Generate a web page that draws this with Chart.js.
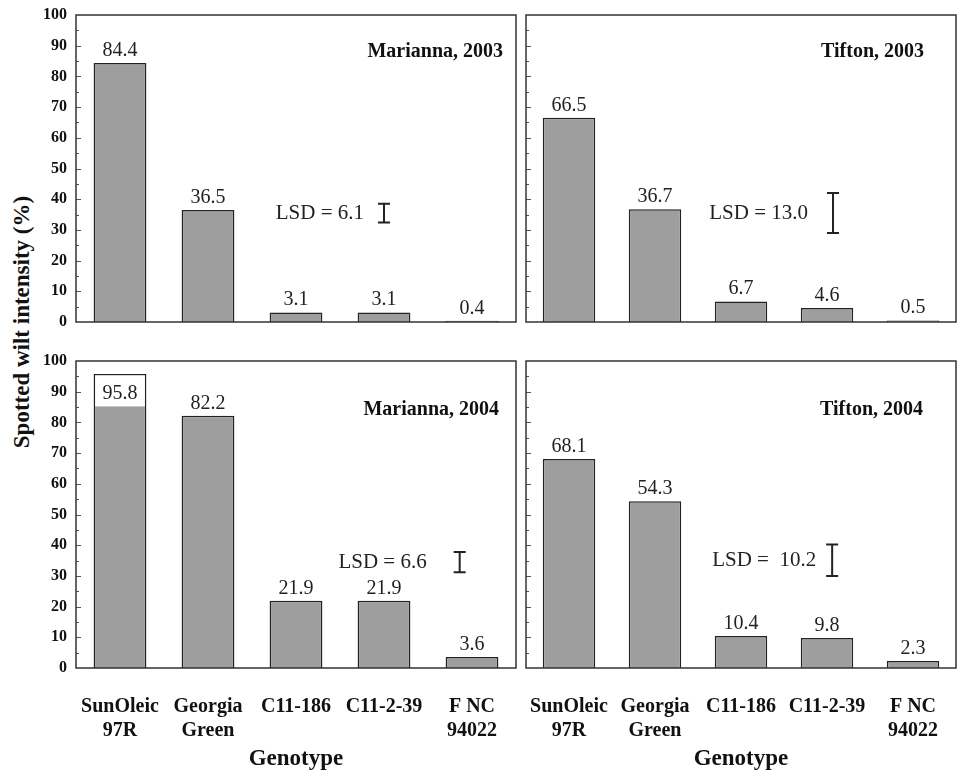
<!DOCTYPE html>
<html>
<head>
<meta charset="utf-8">
<script src="https://cdn.jsdelivr.net/npm/chart.js@4.4.0/dist/chart.umd.min.js"></script>
<style>
body{margin:0;background:#fff;width:957px;height:774px;position:relative;overflow:hidden;}
.panel{position:absolute;}
#ytitle{position:absolute;left:22px;top:322px;transform:translate(-50%,-50%) rotate(-90deg);font:bold 23px "Liberation Serif";white-space:nowrap;color:#111;}
</style>
</head>
<body>
<div id="ytitle">Spotted wilt intensity (%)</div>
<canvas id="c0" class="panel" width="520" height="330" style="left:0;top:0"></canvas>
<canvas id="c1" class="panel" width="437" height="330" style="left:520px;top:0"></canvas>
<canvas id="c2" class="panel" width="520" height="434" style="left:0;top:340px"></canvas>
<canvas id="c3" class="panel" width="437" height="434" style="left:520px;top:340px"></canvas>
<script>
// ----------------------------------------------------------------------
//  data
// ----------------------------------------------------------------------
var genotypes = [['SunOleic', '97R'], ['Georgia', 'Green'], 'C11-186', 'C11-2-39', ['F NC', '94022']];
var marianna2003 = [84.4, 36.5, 3.1, 3.1, 0.4];
var tifton2003 = [66.5, 36.7, 6.7, 4.6, 0.5];
var marianna2004 = [95.8, 82.2, 21.9, 21.9, 3.6];
var tifton2004 = [68.1, 54.3, 10.4, 9.8, 2.3];
var panelTitles = ['Marianna, 2003', 'Tifton, 2003', 'Marianna, 2004', 'Tifton, 2004'];
var lsdValues = [6.1, 13.0, 6.6, 10.2];
var lsdCenters = [35.5, 35.5, 34.5, 35.1];
var lsdLabels = ['LSD = 6.1', 'LSD = 13.0', 'LSD = 6.6', 'LSD =  10.2'];
var yMin = 0, yMax = 100, yStep = 10;

// layout of each panel (left col has tick labels, bottom row has genotype axis)
var panels = [
	{ id: 'c0', data: marianna2003, left: true, bottom: false, lsdX: 3.0, lsdGap: 20, titleRight: 13, titleTop: 37 },
	{ id: 'c1', data: tifton2003, left: false, bottom: false, lsdX: 3.07, lsdGap: 25, titleRight: 32, titleTop: 37 },
	{ id: 'c2', data: marianna2004, left: true, bottom: true, lsdX: 3.86, lsdGap: 33, titleRight: 17, titleTop: 49 },
	{ id: 'c3', data: tifton2004, left: false, bottom: true, lsdX: 3.06, lsdGap: 16, titleRight: 33, titleTop: 49 }
];

var serif = '"Liberation Serif", "Times New Roman", serif';

// ----------------------------------------------------------------------
//  box, inward ticks, value labels, LSD bar, panel title
// ----------------------------------------------------------------------
var panelDeco = {
	id: 'panelDeco',
	afterDatasetsDraw: function (chart, args, opts) {
		var ctx = chart.ctx, area = chart.chartArea;
		var x = chart.scales.x, y = chart.scales.y;
		ctx.save();
		ctx.strokeStyle = '#555';
		ctx.lineWidth = 1;
		for (var v = 5; v < yMax; v += 5) {
			var py = Math.round(y.getPixelForValue(v)) + 0.5;
			ctx.beginPath();
			ctx.moveTo(area.left, py);
			ctx.lineTo(area.left + (v % 10 ? 3 : 5), py);
			ctx.stroke();
		}
		ctx.strokeStyle = '#333';
		ctx.lineWidth = 1.5;
		ctx.strokeRect(area.left, area.top, area.right - area.left, area.bottom - area.top);

		var meta = chart.getDatasetMeta(0);
		var vals = chart.data.datasets[0].data;
		ctx.font = '20px ' + serif;
		ctx.textAlign = 'center';
		ctx.textBaseline = 'alphabetic';
		meta.data.forEach(function (bar, i) {
			var txt = vals[i].toFixed(1);
			if (bar.y - 26 < area.top) {
				var half = bar.width / 2 - 1.5;
				ctx.fillStyle = '#fff';
				ctx.fillRect(bar.x - half, bar.y + 1.5, half * 2, 31);
				ctx.fillStyle = '#222';
				ctx.fillText(txt, bar.x, bar.y + 25);
			} else {
				ctx.fillStyle = '#222';
				ctx.fillText(txt, bar.x, bar.y - 7);
			}
		});

		var lx = x.getPixelForValue(opts.lsdX);
		var top = y.getPixelForValue(opts.lsdCenter + opts.lsd / 2);
		var bot = y.getPixelForValue(opts.lsdCenter - opts.lsd / 2);
		ctx.strokeStyle = '#222';
		ctx.lineWidth = 2;
		ctx.beginPath();
		ctx.moveTo(lx, top); ctx.lineTo(lx, bot);
		ctx.moveTo(lx - 6, top); ctx.lineTo(lx + 6, top);
		ctx.moveTo(lx - 6, bot); ctx.lineTo(lx + 6, bot);
		ctx.stroke();
		ctx.font = '21px ' + serif;
		ctx.textAlign = 'right';
		ctx.textBaseline = 'middle';
		ctx.fillStyle = '#222';
		ctx.fillText(opts.lsdLabel, lx - opts.lsdGap, y.getPixelForValue(opts.lsdCenter));

		ctx.font = 'bold 20px ' + serif;
		ctx.fillStyle = '#111';
		ctx.fillText(opts.title, area.right - opts.titleRight, area.top + opts.titleTop);
		ctx.restore();
	}
};

panels.forEach(function (p, k) {
	var ctx = document.getElementById(p.id).getContext('2d');
	var config = {
		type: 'bar',
		data: {
			labels: genotypes,
			datasets: [{
				data: p.data,
				backgroundColor: '#9e9e9e',
				borderColor: '#222',
				borderWidth: 1.5,
				barPercentage: p.left ? 0.6 : 0.61,
				categoryPercentage: 1
			}]
		},
		options: {
			responsive: false,
			animation: false,
			events: [],
			layout: { padding: { top: p.bottom ? 21 : 15, right: p.left ? 4 : 1, bottom: p.bottom ? 0 : 8, left: 0 } },
			scales: {
				x: {
					display: p.bottom,
					grid: { display: false, drawTicks: false },
					border: { display: false },
					ticks: { color: '#111', font: { family: serif, size: 20, weight: 'bold', lineHeight: 1.2 }, padding: 27, maxRotation: 0, autoSkip: false },
					title: { display: true, text: 'Genotype', color: '#111', font: { family: serif, size: 23, weight: 'bold' }, padding: { top: 0, bottom: 1 } },
					afterFit: function (s) {
						if (p.bottom) s.height = 106;
						s.paddingLeft = 0;
						s.paddingRight = 0;
					}
				},
				y: {
					min: yMin,
					max: yMax,
					grid: { display: false, drawTicks: false },
					border: { display: false },
					ticks: { display: p.left, stepSize: yStep, color: '#111', font: { family: serif, size: 16, weight: 'bold' }, padding: 9 },
					afterFit: function (s) {
						s.width = p.left ? 76 : 6;
						s.paddingTop = 0;
						s.paddingBottom = 0;
					}
				}
			},
			plugins: {
				legend: { display: false },
				tooltip: { enabled: false },
				panelDeco: {
					title: panelTitles[k],
					lsd: lsdValues[k],
					lsdCenter: lsdCenters[k],
					lsdLabel: lsdLabels[k],
					lsdX: p.lsdX,
					lsdGap: p.lsdGap,
					titleRight: p.titleRight,
					titleTop: p.titleTop
				}
			}
		},
		plugins: [panelDeco]
	};
	new Chart(ctx, config);
});
</script>
</body>
</html>
